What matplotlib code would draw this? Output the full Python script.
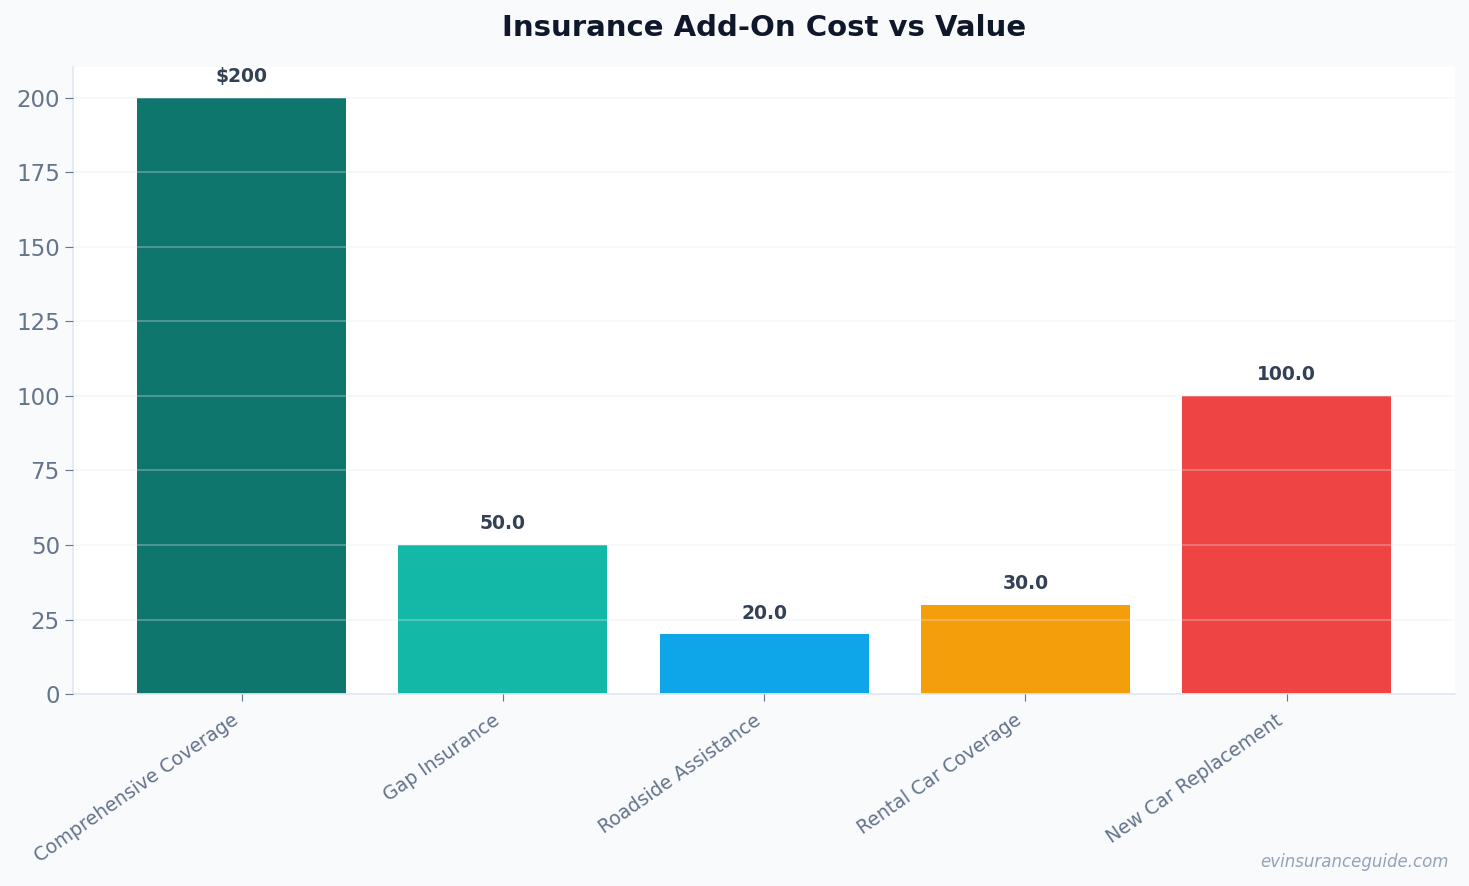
import matplotlib
matplotlib.use("Agg")
import matplotlib.pyplot as plt
import numpy as np

plt.rcParams["font.family"] = ["DejaVu Sans"]

categories = ["Comprehensive Coverage", "Gap Insurance", "Roadside Assistance",
              "Rental Car Coverage", "New Car Replacement"]
values = [200, 50.0, 20.0, 30.0, 100.0]
value_labels = ["$200", "50.0", "20.0", "30.0", "100.0"]
colors = ["#0f766e", "#14b8a6", "#0ea5e9", "#f59e0b", "#ef4444"]

fig = plt.figure(figsize=(14.69, 8.86), dpi=100, facecolor="#f8fafc")
ax = fig.add_axes([0.0497, 0.2167, 0.9408, 0.7077])
ax.set_facecolor("white")

x = np.arange(len(categories))
ax.bar(x, values, width=0.8, color=colors, zorder=1)
ax.grid(axis="y", color="#e2e8f0", alpha=0.35, linewidth=1.2, zorder=2)
ax.set_axisbelow(False)

for xi, v, lab in zip(x, values, value_labels):
    ax.annotate(lab, (xi, v), xytext=(0, 8.5), textcoords="offset points",
                ha="center", va="bottom", fontsize=13.5, fontweight="bold",
                color="#334155")

ax.set_xlim(-0.645, 4.645)
ax.set_ylim(0, 210.4)
ax.set_yticks(np.arange(0, 201, 25))
ax.set_xticks(x)
ax.set_xticklabels(categories, rotation=35, ha="right",
                   fontsize=13.6, color="#64748b")
ax.tick_params(axis="y", labelsize=16.5, labelcolor="#64748b", color="#64748b", length=6)
ax.tick_params(axis="x", color="#64748b", length=5, pad=7)

for s in ["top", "right"]:
    ax.spines[s].set_visible(False)
for s in ["left", "bottom"]:
    ax.spines[s].set_color("#e2e8f0")
    ax.spines[s].set_linewidth(1.2)

fig.text(0.52, 0.968, "Insurance Add-On Cost vs Value", ha="center", va="center",
         fontsize=21, fontweight="bold", color="#0f172a")
fig.text(0.986, 0.027, "evinsuranceguide.com", ha="right", va="center",
         fontsize=12, style="italic", color="#94a3b8")

fig.savefig("out.png", dpi=100, facecolor=fig.get_facecolor())
